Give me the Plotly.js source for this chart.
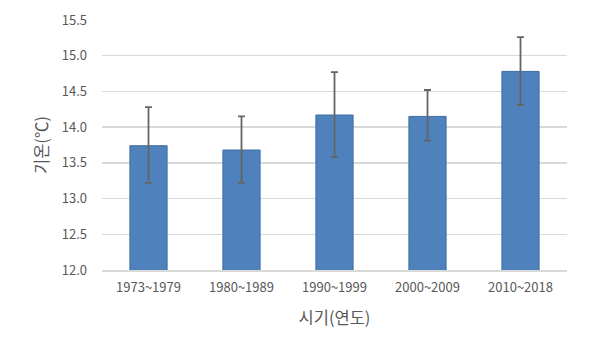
<!DOCTYPE html>
<html>
<head>
<meta charset="utf-8">
<script src="https://cdn.plot.ly/plotly-3.0.1.min.js"></script>
<style>html,body{margin:0;padding:0;background:#fff}#chart{width:600px;height:339px}</style>
</head>
<body>
<div id="chart"></div>
<script>
const periods = ["1973~1979", "1980~1989", "1990~1999", "2000~2009", "2010~2018"];
const meanTemp = [13.74, 13.68, 14.17, 14.15, 14.78];
const errPlus = [0.54, 0.47, 0.60, 0.37, 0.48];
const errMinus = [0.52, 0.46, 0.59, 0.34, 0.47];
const yTicks = [12.0, 12.5, 13.0, 13.5, 14.0, 14.5, 15.0, 15.5];

const font = "'Noto Sans CJK KR', 'Noto Sans', sans-serif";
const trace = {
  type: "bar",
  x: periods,
  y: meanTemp,
  base: 0,
  marker: {color: "#4f81bd", line: {color: "#3f6e9f", width: 1}},
  error_y: {type: "data", symmetric: false, array: errPlus, arrayminus: errMinus,
            color: "#656565", thickness: 1.8, width: 3.5},
  hoverinfo: "none"
};
const layout = {
  width: 600, height: 339,
  margin: {l: 102, r: 33, t: 20, b: 69},
  paper_bgcolor: "#fff", plot_bgcolor: "#fff",
  bargap: 0.6,
  showlegend: false,
  font: {family: font, color: "#595959", size: 13},
  xaxis: {
    type: "category",
    tickfont: {size: 13, color: "#595959"},
    showgrid: false, zeroline: false,
    showline: true, linecolor: "#d9d9d9", linewidth: 1.5,
    ticks: "", ticklabelstandoff: 5,
    title: {text: "시기(연도)", font: {size: 16.5, color: "#595959"}, standoff: 17}
  },
  yaxis: {
    range: [12, 15.5],
    tickvals: yTicks,
    ticktext: yTicks.map(v => v.toFixed(1)),
    tickfont: {size: 13, color: "#595959"},
    showgrid: true, gridcolor: "#d9d9d9", gridwidth: 1.5,
    zeroline: false, showline: false, ticks: "",
    ticklabelstandoff: 14,
    title: {text: "기온(℃)", font: {size: 16.5, color: "#595959"}, standoff: 8}
  }
};
Plotly.newPlot("chart", [trace], layout, {staticPlot: true, displayModeBar: false});
</script>
</body>
</html>
